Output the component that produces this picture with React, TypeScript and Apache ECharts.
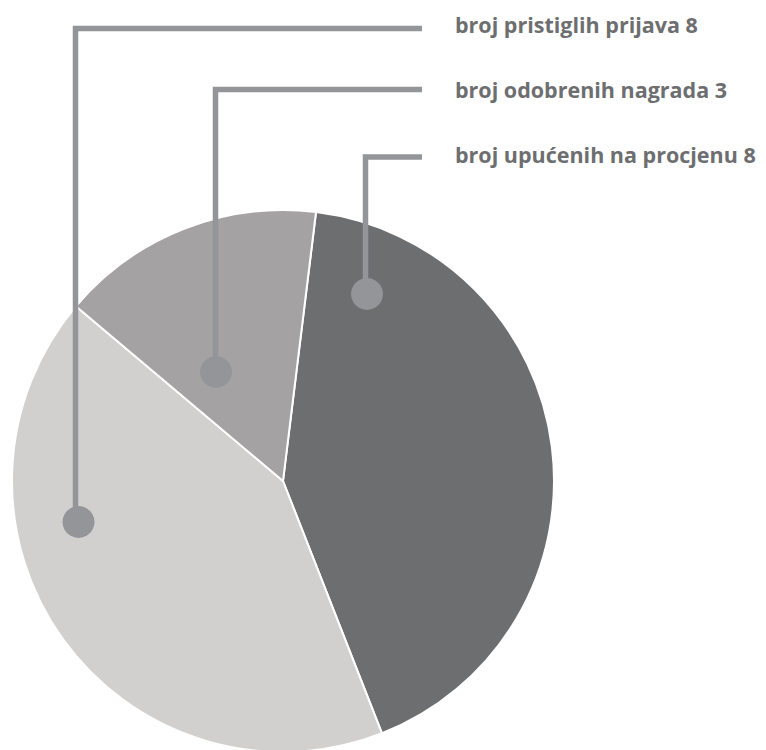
import React, { useEffect, useRef } from "react";
import * as echarts from "echarts";

// Slices in clockwise order starting near the top
const categories = ["broj upućenih na procjenu", "broj pristiglih prijava", "broj odobrenih nagrada"];
const values = [8, 8, 3];
const sliceColors = ["#6d6e70", "#d1d0cf", "#a5a2a3"];

// Callout legend order (top to bottom) – indices into categories
const calloutOrder = [1, 2, 0];

export default function App() {
  const ref = useRef<HTMLDivElement>(null);

  useEffect(() => {
    if (!ref.current) return;
    const chart = echarts.init(ref.current, undefined, { renderer: "svg" });

    const lineColor = "#939598";
    const textColor = "#6d6e70";
    // callout geometry (annotation layout)
    const callouts = [
      { lineX: 75.5, lineY: 28.5, dotX: 78.5, dotY: 522, textY: 24 },
      { lineX: 215.5, lineY: 89.5, dotX: 216, dotY: 372, textY: 89 },
      { lineX: 365.5, lineY: 157, dotX: 367, dotY: 294, textY: 154 },
    ];
    const lineEndX = 422;
    const textX = 455;

    const graphic: any[] = [];
    calloutOrder.forEach((ci, i) => {
      const c = callouts[i];
      graphic.push({
        type: "polyline",
        z: 10,
        shape: {
          points: [
            [c.lineX, c.dotY],
            [c.lineX, c.lineY],
            [lineEndX, c.lineY],
          ],
        },
        style: { stroke: lineColor, lineWidth: 5.5, fill: "none", lineJoin: "miter" },
      });
      graphic.push({
        type: "circle",
        z: 11,
        shape: { cx: c.dotX, cy: c.dotY, r: 16 },
        style: { fill: lineColor },
      });
      graphic.push({
        type: "text",
        z: 12,
        x: textX,
        y: c.textY,
        style: {
          text: `${categories[ci]} ${values[ci]}`,
          fill: textColor,
          font: "bold 21.5px 'Open Sans'",
          verticalAlign: "middle",
          align: "left",
        },
      });
    });

    chart.setOption({
      animation: false,
      series: [
        {
          type: "pie",
          center: [283, 481],
          radius: 271,
          startAngle: 83,
          clockwise: true,
          silent: true,
          label: { show: false },
          labelLine: { show: false },
          itemStyle: { borderColor: "#ffffff", borderWidth: 2 },
          data: categories.map((name, i) => ({
            name,
            value: values[i],
            itemStyle: { color: sliceColors[i] },
          })),
        },
      ],
      graphic,
    });

    return () => chart.dispose();
  }, []);

  return (
    <div
      ref={ref}
      style={{ position: "absolute", left: 0, top: 0, width: 766, height: 750 }}
    />
  );
}
